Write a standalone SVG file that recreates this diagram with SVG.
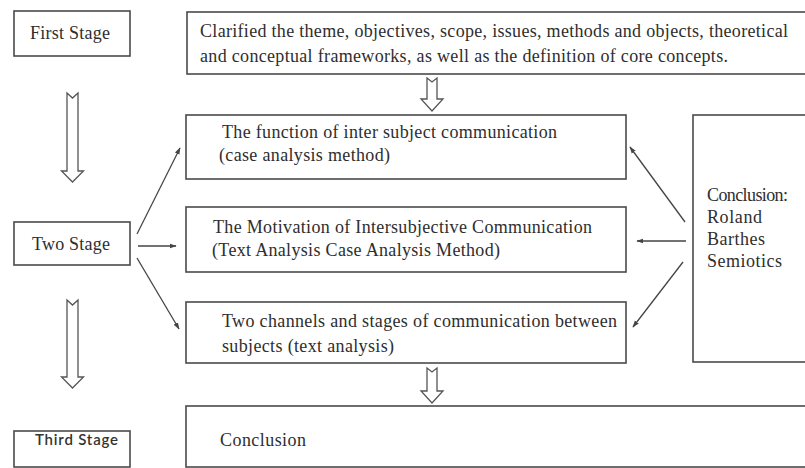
<svg xmlns="http://www.w3.org/2000/svg" width="805" height="468" viewBox="0 0 805 468">
<defs>
<style>
.box{fill:#fff;stroke:#4a4a4a;stroke-width:1.6}
.t{font-family:"Liberation Serif","Times New Roman",serif;font-size:18px;fill:#2e2e2e}
.ts{font-family:Lato,"Liberation Sans",sans-serif;font-size:15px;font-weight:600;fill:#333}
.hollow{fill:#fff;stroke:#555;stroke-width:1.3;stroke-linejoin:miter}
.ln{stroke:#444;stroke-width:1.3;fill:none;marker-end:url(#ah)}
</style>
<marker id="ah" viewBox="0 0 10 10" refX="9" refY="5" markerWidth="7" markerHeight="7" markerUnits="userSpaceOnUse" orient="auto">
<path d="M0,1.5 L10,5 L0,8.5 Z" fill="#444"/>
</marker>
</defs>
<rect width="805" height="468" fill="#fff"/>

<g id="first-stage">
<rect class="box" x="14" y="11" width="116" height="45"/>
<text class="t" x="30" y="39" textLength="80">First Stage</text>
</g>
<g id="stage1-content">
<rect class="box" x="187" y="12" width="630" height="62"/>
<text class="t" x="200" y="37" textLength="588">Clarified the theme, objectives, scope, issues, methods and objects, theoretical</text>
<text class="t" x="200" y="62" textLength="528">and conceptual frameworks, as well as the definition of core concepts.</text>
</g>
<g id="two-stage">
<rect class="box" x="14" y="222" width="116" height="43"/>
<text class="t" x="32" y="250" textLength="78">Two Stage</text>
</g>
<g id="function">
<rect class="box" x="186" y="115" width="440" height="64"/>
<text class="t" x="222" y="138" textLength="335">The function of inter subject communication</text>
<text class="t" x="219" y="161" textLength="171">(case analysis method)</text>
</g>
<g id="motivation">
<rect class="box" x="186" y="207" width="440" height="65"/>
<text class="t" x="213" y="233" textLength="379">The Motivation of Intersubjective Communication</text>
<text class="t" x="212" y="256" textLength="288">(Text Analysis Case Analysis Method)</text>
</g>
<g id="channels">
<rect class="box" x="186" y="302" width="440" height="61"/>
<text class="t" x="222" y="327" textLength="395">Two channels and stages of communication between</text>
<text class="t" x="222" y="352" textLength="172">subjects (text analysis)</text>
</g>
<g id="conclusion-semiotics">
<rect class="box" x="693" y="115" width="130" height="247"/>
<text class="t" x="707" y="201" textLength="81">Conclusion:</text>
<text class="t" x="707" y="223" textLength="55">Roland</text>
<text class="t" x="707" y="245" textLength="58">Barthes</text>
<text class="t" x="707" y="267" textLength="75">Semiotics</text>
</g>
<g id="third-stage">
<rect class="box" x="14" y="431" width="116" height="36"/>
<text class="ts" x="35" y="445" textLength="83">Third Stage</text>
</g>
<g id="conclusion">
<rect class="box" x="186" y="406" width="630" height="61"/>
<text class="t" x="220" y="446" textLength="86">Conclusion</text>
</g>

<g id="connectors">
<polygon class="hollow" points="67,93 72.5,98 78,93 78,171 83.5,171 72.5,182 61.5,171 67,171"/>
<polygon class="hollow" points="67,300 72.5,305 78,300 78,377 83.5,377 72.5,388 61.5,377 67,377"/>
<polygon class="hollow" points="427,78 432,82 437,78 437,99 443,99 432,111 421,99 427,99"/>
<polygon class="hollow" points="427,368 432,372 437,368 437,391 443,391 432,403 421,391 427,391"/>
<line class="ln" x1="137" y1="234" x2="180" y2="148"/>
<line class="ln" x1="138" y1="246" x2="176" y2="246"/>
<line class="ln" x1="137" y1="258" x2="179" y2="329"/>
<line class="ln" x1="685" y1="222" x2="630" y2="147"/>
<line class="ln" x1="686" y1="241" x2="637" y2="241"/>
<line class="ln" x1="683" y1="262" x2="633" y2="327"/>
</g>
</svg>
